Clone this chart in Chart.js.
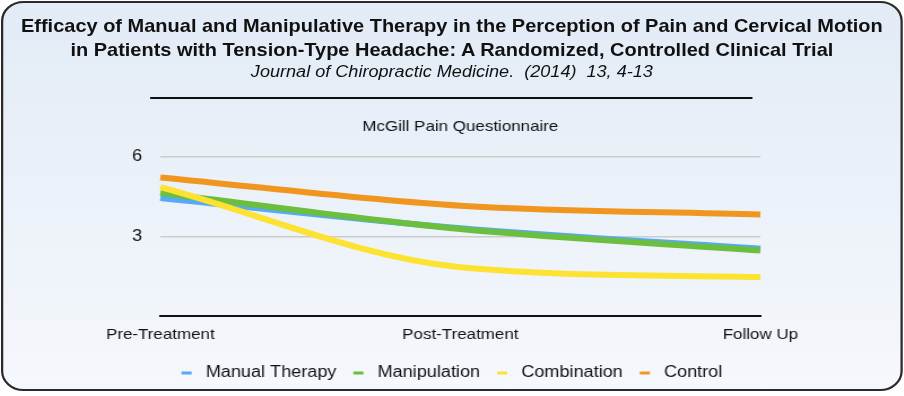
<!DOCTYPE html>
<html>
<head>
<meta charset="utf-8">
<script src="https://cdn.jsdelivr.net/npm/chart.js@4"></script>
<style>
  html, body { margin: 0; padding: 0; background: #fff; overflow: hidden; }
  /* the reference is a little wider than tall, so the whole panel is stretched */
  .frame {
    position: absolute; left: 1px; top: 1px; width: 794px; height: 386px;
    border: 2px solid #2a2a2a; border-radius: 20px;
    background: linear-gradient(#e2ebf6, #f5f8fc);
    font-family: "Liberation Sans", Arial, sans-serif;
    overflow: hidden;
    transform: scaleX(1.13); transform-origin: 0 0;
  }
  .title {
    position: absolute; left: 0; width: 794px; top: 11px; text-align: center;
    font-weight: bold; font-size: 17.7px; line-height: 24px; color: #111;
  }
  .sub {
    position: absolute; left: 0; width: 794px; top: 60px; text-align: center;
    font-style: italic; font-size: 16px; color: #111;
  }
  .rule {
    position: absolute; left: 130px; top: 94px; width: 533px; height: 2px; background: #111;
  }
  canvas { position: absolute; left: 0; top: 104px; }
</style>
</head>
<body>
<div class="frame">
  <div class="title">Efficacy of Manual and Manipulative Therapy in the Perception of Pain and Cervical Motion<br>in Patients with Tension-Type Headache: A Randomized, Controlled Clinical Trial</div>
  <div class="sub">Journal of Chiropractic Medicine.&nbsp; (2014)&nbsp; 13, 4-13</div>
  <div class="rule"></div>
  <canvas id="chart" width="794" height="284"></canvas>
</div>
<script>
const timepoints = ["Pre-Treatment", "Post-Treatment", "Follow Up"];
const manualTherapy = [4.45, 3.31, 2.54];
const manipulation = [4.64, 3.28, 2.47];
const combination = [4.86, 1.84, 1.47];
const control = [5.23, 4.16, 3.83];
const yTicks = [0, 3, 6];

const series = [
  { label: "Manual Therapy", data: manualTherapy, color: "#55a9f5" },
  { label: "Manipulation", data: manipulation, color: "#6cbf3e" },
  { label: "Combination", data: combination, color: "#fde231" },
  { label: "Control", data: control, color: "#f0961f" },
];

new Chart(document.getElementById("chart"), {
  type: "line",
  data: {
    labels: timepoints,
    datasets: series.map((s, i) => ({
      label: s.label,
      data: s.data,
      borderColor: s.color,
      backgroundColor: s.color,
      borderWidth: 6,
      pointRadius: 0,
      cubicInterpolationMode: "monotone",
      order: series.length - i,
    })),
  },
  options: {
    responsive: false,
    animation: false,
    layout: { padding: 0 },
    scales: {
      x: {
        offset: false,
        afterFit: (scale) => { scale.height += 4; },
        grid: { display: false },
        border: { color: "#111", width: 2 },
        ticks: { color: "#111", font: { size: 15, family: "Liberation Sans" }, padding: 2, maxRotation: 0 },
      },
      y: {
        min: 0,
        max: 6,
        afterFit: (scale) => { scale.width = 139; },
        afterBuildTicks: (scale) => { scale.ticks = yTicks.map((v) => ({ value: v })); },
        grid: { color: "#cccccc", lineWidth: 1.5, drawTicks: false },
        border: { display: false },
        ticks: {
          color: "#111",
          padding: 16,
          font: { size: 16, family: "Liberation Sans" },
          callback: (v) => (v === 0 ? "" : v),
        },
      },
      // empty spacer on the right so the plot ends where the reference does
      spacer: {
        position: "right",
        display: true,
        afterFit: (scale) => { scale.width = 124; },
        grid: { display: false },
        border: { display: false },
        ticks: { display: false },
      },
    },
    plugins: {
      title: {
        display: true,
        fullSize: false,
        text: "McGill Pain Questionnaire",
        color: "#111",
        font: { size: 15, weight: "normal", family: "Liberation Sans" },
        padding: { top: 11, bottom: 21 },
      },
      legend: {
        position: "bottom",
        labels: {
          color: "#111",
          font: { size: 16, family: "Liberation Sans" },
          boxWidth: 9,
          boxHeight: 3,
          padding: 15,
          generateLabels: (chart) =>
            chart.data.datasets.map((d, i) => ({
              text: " " + d.label,
              fillStyle: d.borderColor,
              strokeStyle: d.borderColor,
              lineWidth: 0,
              datasetIndex: i,
              fontColor: "#111",
            })),
        },
      },
      tooltip: { enabled: false },
    },
  },
});
</script>
</body>
</html>
